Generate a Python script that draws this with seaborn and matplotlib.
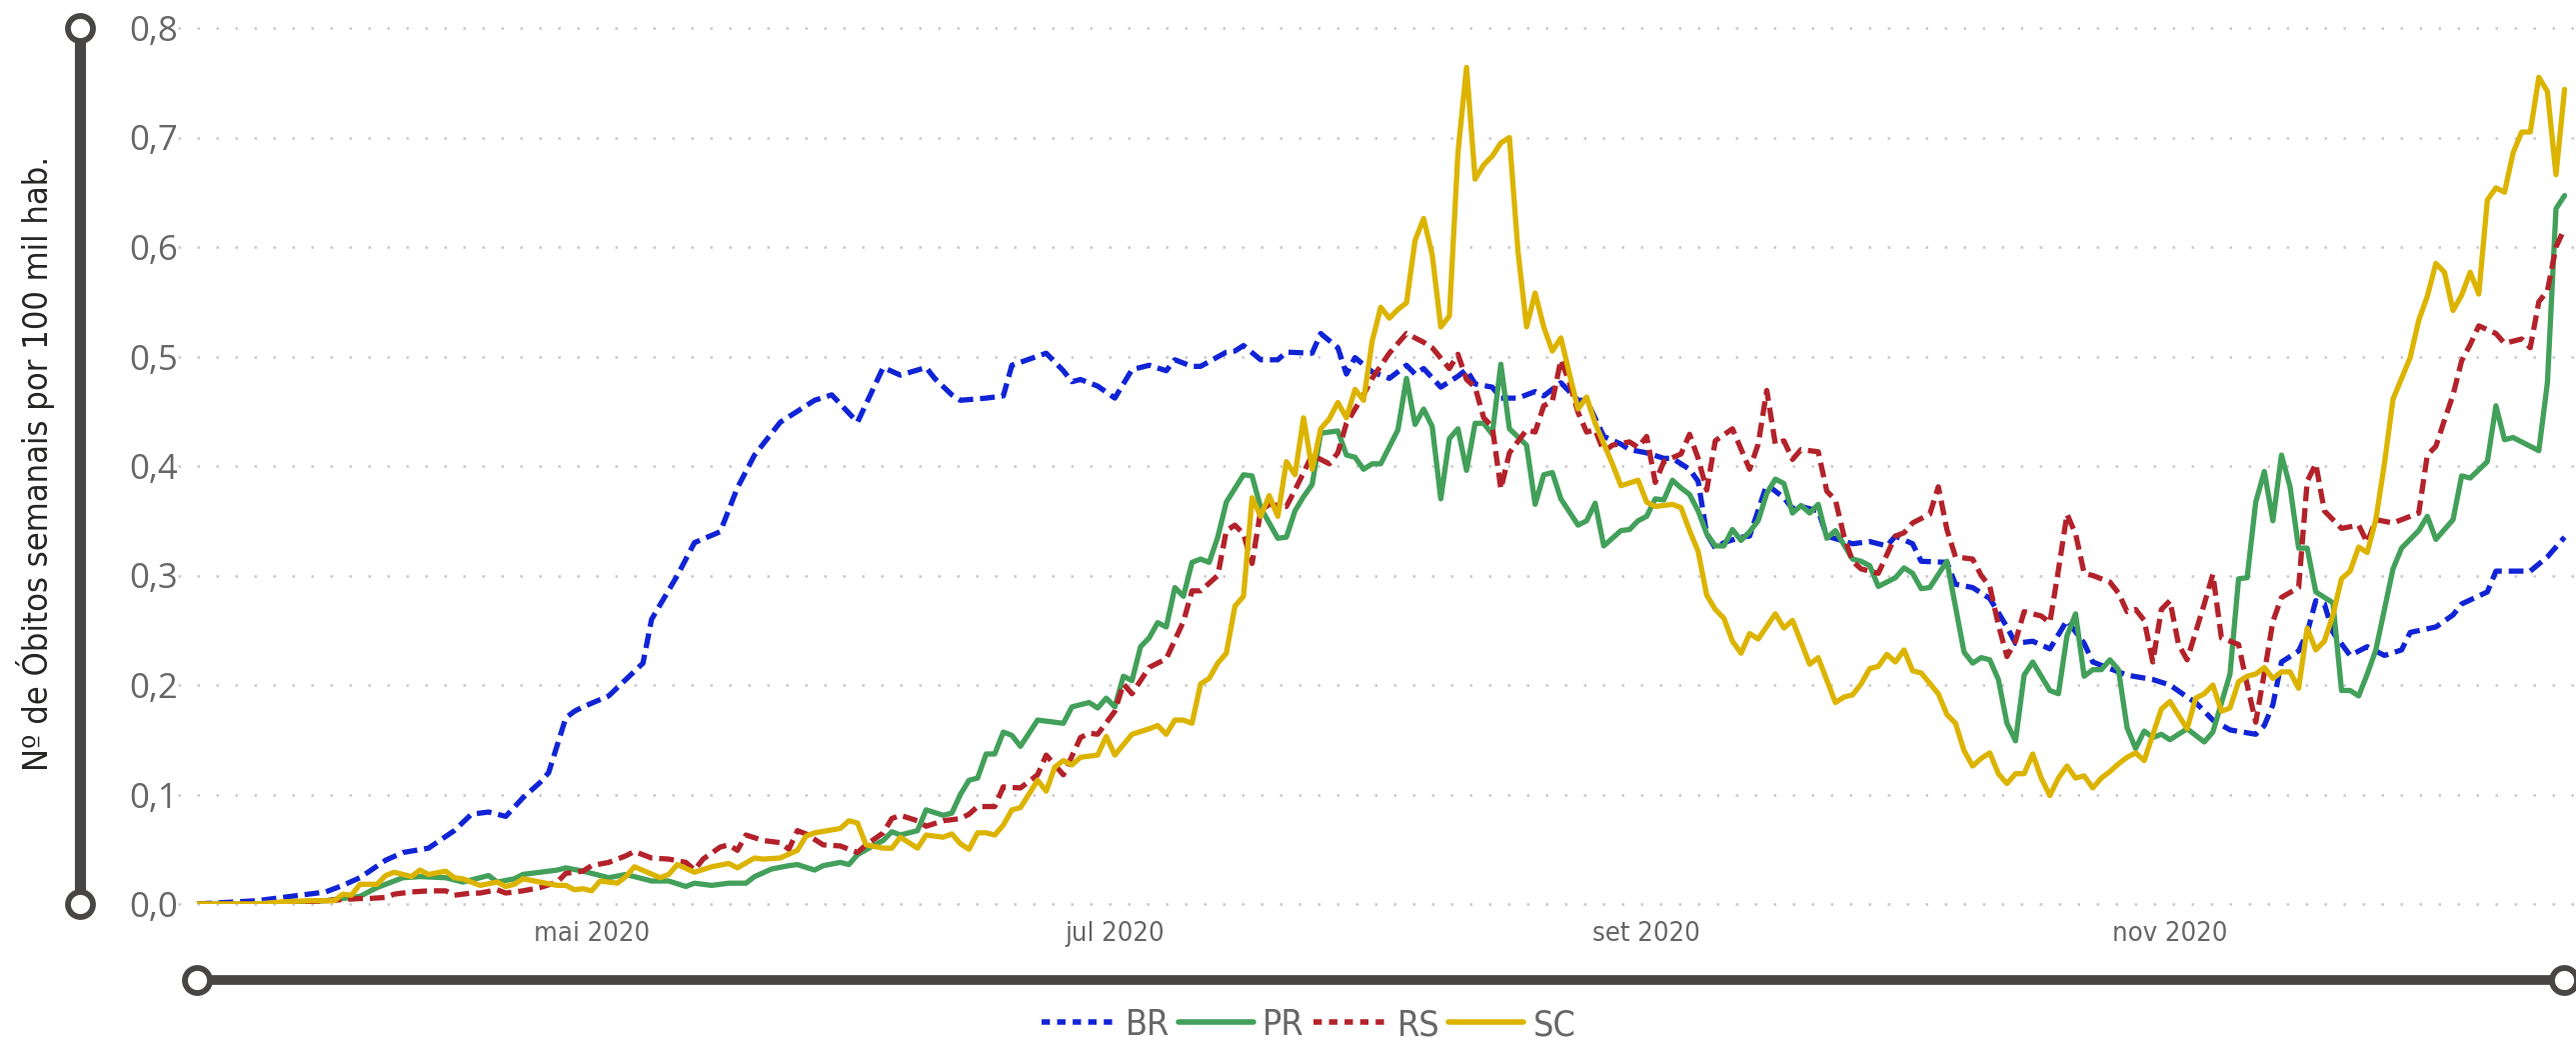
import numpy as np
import pandas as pd
import matplotlib
matplotlib.use('Agg')
import matplotlib.pyplot as plt
import matplotlib.dates as mdates
from matplotlib import font_manager
from matplotlib.font_manager import FontProperties
from matplotlib.lines import Line2D
import seaborn as sns

# dia 0 = primeiro dia da serie
inicio = pd.Timestamp('2020-03-16')

# (dias desde o inicio, obitos semanais por 100 mil hab.)
br = [(0, 0.0), (7, 0.003), (11, 0.007), (15, 0.011), (17, 0.017), (19, 0.024), (22, 0.040), (24, 0.047),
      (27, 0.051), (30, 0.067), (32, 0.082), (34, 0.084), (36, 0.080), (38, 0.097), (40, 0.111), (41, 0.120),
      (43, 0.170), (44, 0.176), (45, 0.180), (48, 0.190), (52, 0.220), (53, 0.260), (56, 0.300), (58, 0.330),
      (61, 0.340), (63, 0.380), (65, 0.410), (68, 0.440), (70, 0.450), (72, 0.460), (74, 0.465), (77, 0.440),
      (80, 0.490), (82, 0.483), (85, 0.490), (86, 0.480), (88, 0.465), (89, 0.460), (92, 0.462), (94, 0.464),
      (95, 0.492), (99, 0.503), (101, 0.487), (102, 0.477), (103, 0.479), (105, 0.473), (107, 0.462),
      (109, 0.488), (111, 0.492), (113, 0.487), (114, 0.497), (116, 0.491), (117, 0.491), (120, 0.504),
      (121, 0.505), (122, 0.510), (124, 0.497), (126, 0.497), (127, 0.504), (130, 0.503), (131, 0.521),
      (133, 0.508), (134, 0.484), (135, 0.499), (137, 0.486), (139, 0.480), (141, 0.492), (142, 0.484),
      (143, 0.489), (145, 0.472), (147, 0.482), (148, 0.488), (149, 0.475), (151, 0.472), (152, 0.462),
      (154, 0.462), (156, 0.468), (157, 0.464), (159, 0.476), (161, 0.460), (162, 0.460), (164, 0.427),
      (166, 0.420), (167, 0.415), (169, 0.412), (171, 0.407), (172, 0.407), (174, 0.397), (175, 0.386),
      (176, 0.338), (177, 0.325), (178, 0.330), (180, 0.335), (181, 0.336), (183, 0.383), (185, 0.371),
      (186, 0.361), (187, 0.363), (189, 0.359), (190, 0.336), (193, 0.329), (195, 0.331), (197, 0.327),
      (198, 0.336), (200, 0.329), (201, 0.313), (204, 0.312), (205, 0.292), (207, 0.289), (209, 0.279),
      (211, 0.253), (212, 0.238), (214, 0.240), (216, 0.233), (218, 0.259), (220, 0.238), (221, 0.221),
      (223, 0.215), (225, 0.209), (228, 0.205), (230, 0.200), (232, 0.189), (233, 0.184), (235, 0.168),
      (237, 0.159), (240, 0.155), (241, 0.163), (242, 0.182), (243, 0.221), (245, 0.231), (246, 0.248),
      (247, 0.277), (248, 0.274), (249, 0.248), (251, 0.227), (253, 0.235), (255, 0.227), (257, 0.232),
      (258, 0.248), (261, 0.253), (263, 0.264), (264, 0.274), (267, 0.285), (268, 0.304), (270, 0.304),
      (272, 0.304), (274, 0.317), (276, 0.335)]

pr = [(0, 0.0), (9, 0.0), (15, 0.003), (19, 0.007), (21, 0.015), (24, 0.024), (26, 0.025), (29, 0.024),
      (31, 0.020), (33, 0.024), (34, 0.026), (35, 0.020), (37, 0.023), (38, 0.027), (40, 0.029), (42, 0.031),
      (43, 0.033), (45, 0.030), (46, 0.028), (48, 0.024), (50, 0.027), (51, 0.025), (53, 0.021), (55, 0.021),
      (57, 0.016), (58, 0.019), (60, 0.017), (62, 0.019), (64, 0.019), (65, 0.025), (67, 0.032), (69, 0.035),
      (70, 0.036), (72, 0.031), (73, 0.035), (75, 0.038), (76, 0.036), (77, 0.045), (79, 0.054), (80, 0.058),
      (81, 0.066), (82, 0.063), (84, 0.067), (85, 0.086), (87, 0.081), (88, 0.083), (89, 0.100), (90, 0.113),
      (91, 0.115), (92, 0.137), (93, 0.137), (94, 0.157), (95, 0.154), (96, 0.144), (98, 0.168), (99, 0.167),
      (101, 0.165), (102, 0.180), (104, 0.184), (105, 0.179), (106, 0.188), (107, 0.180), (108, 0.208),
      (109, 0.204), (110, 0.235), (111, 0.243), (112, 0.257), (113, 0.253), (114, 0.289), (115, 0.281),
      (116, 0.312), (117, 0.315), (118, 0.312), (119, 0.335), (120, 0.367), (122, 0.392), (123, 0.391),
      (124, 0.362), (126, 0.334), (127, 0.335), (128, 0.359), (129, 0.372), (130, 0.383), (131, 0.430),
      (133, 0.432), (134, 0.410), (135, 0.408), (136, 0.397), (137, 0.402), (138, 0.402), (140, 0.433),
      (141, 0.480), (142, 0.438), (143, 0.452), (144, 0.436), (145, 0.370), (146, 0.425), (147, 0.434),
      (148, 0.396), (149, 0.439), (150, 0.439), (151, 0.429), (152, 0.493), (153, 0.434), (155, 0.419),
      (156, 0.365), (157, 0.392), (158, 0.394), (159, 0.370), (161, 0.346), (162, 0.350), (163, 0.366),
      (164, 0.327), (165, 0.334), (166, 0.341), (167, 0.342), (168, 0.350), (169, 0.354), (170, 0.370),
      (171, 0.369), (172, 0.387), (173, 0.380), (174, 0.374), (175, 0.359), (176, 0.338), (177, 0.327),
      (178, 0.327), (179, 0.342), (180, 0.332), (181, 0.340), (182, 0.350), (183, 0.375), (184, 0.388),
      (185, 0.384), (186, 0.357), (187, 0.364), (188, 0.357), (189, 0.365), (190, 0.334), (191, 0.341),
      (193, 0.315), (194, 0.313), (195, 0.309), (196, 0.290), (198, 0.298), (199, 0.307), (200, 0.302),
      (201, 0.288), (202, 0.289), (204, 0.313), (206, 0.230), (207, 0.220), (208, 0.225), (209, 0.223),
      (210, 0.205), (211, 0.165), (212, 0.149), (213, 0.209), (214, 0.221), (216, 0.195), (217, 0.192),
      (218, 0.245), (219, 0.265), (220, 0.208), (221, 0.214), (222, 0.214), (223, 0.223), (224, 0.214),
      (225, 0.161), (226, 0.142), (227, 0.158), (228, 0.152), (229, 0.155), (230, 0.150), (232, 0.160),
      (234, 0.148), (235, 0.157), (237, 0.210), (238, 0.297), (239, 0.298), (240, 0.367), (241, 0.395),
      (242, 0.350), (243, 0.410), (244, 0.381), (245, 0.325), (246, 0.325), (247, 0.285), (249, 0.275),
      (250, 0.195), (251, 0.195), (252, 0.190), (253, 0.210), (254, 0.232), (256, 0.306), (257, 0.325),
      (259, 0.341), (260, 0.354), (261, 0.333), (263, 0.351), (264, 0.391), (265, 0.389), (267, 0.404),
      (268, 0.455), (269, 0.424), (270, 0.426), (271, 0.422), (273, 0.414), (274, 0.476), (275, 0.635),
      (276, 0.647)]

rs = [(0, 0.0), (7, 0.0), (11, 0.001), (15, 0.003), (17, 0.004), (19, 0.005), (20, 0.005), (22, 0.006),
      (23, 0.009), (25, 0.011), (27, 0.012), (29, 0.012), (30, 0.008), (32, 0.010), (33, 0.010), (35, 0.013),
      (36, 0.010), (38, 0.012), (40, 0.015), (42, 0.020), (43, 0.028), (45, 0.030), (46, 0.035), (48, 0.038),
      (50, 0.044), (51, 0.048), (53, 0.042), (55, 0.041), (57, 0.038), (58, 0.031), (59, 0.041), (61, 0.052),
      (62, 0.054), (63, 0.049), (64, 0.063), (66, 0.058), (68, 0.056), (69, 0.050), (70, 0.067), (71, 0.064),
      (73, 0.054), (75, 0.053), (77, 0.047), (78, 0.054), (80, 0.065), (81, 0.078), (82, 0.081), (84, 0.076),
      (85, 0.071), (87, 0.076), (89, 0.078), (90, 0.082), (91, 0.089), (93, 0.089), (94, 0.107), (96, 0.106),
      (98, 0.118), (99, 0.136), (101, 0.118), (103, 0.152), (104, 0.156), (105, 0.155), (107, 0.176),
      (108, 0.201), (109, 0.192), (111, 0.216), (113, 0.224), (115, 0.258), (116, 0.286), (117, 0.286),
      (119, 0.300), (120, 0.341), (121, 0.346), (122, 0.338), (123, 0.311), (124, 0.359), (125, 0.365),
      (127, 0.363), (128, 0.378), (130, 0.410), (132, 0.402), (133, 0.412), (134, 0.439), (136, 0.465),
      (137, 0.480), (139, 0.503), (141, 0.521), (143, 0.513), (144, 0.508), (146, 0.489), (147, 0.502),
      (148, 0.479), (149, 0.472), (150, 0.444), (151, 0.436), (152, 0.379), (153, 0.412), (155, 0.433),
      (156, 0.431), (157, 0.455), (158, 0.459), (159, 0.497), (160, 0.476), (161, 0.449), (162, 0.431),
      (163, 0.433), (164, 0.413), (165, 0.419), (167, 0.422), (168, 0.417), (169, 0.427), (170, 0.385),
      (171, 0.404), (173, 0.411), (174, 0.429), (175, 0.407), (176, 0.378), (177, 0.423), (179, 0.434),
      (181, 0.397), (182, 0.420), (183, 0.469), (184, 0.420), (185, 0.423), (186, 0.406), (187, 0.415),
      (189, 0.413), (190, 0.377), (191, 0.369), (192, 0.336), (193, 0.313), (194, 0.306), (196, 0.302),
      (198, 0.336), (199, 0.339), (200, 0.348), (202, 0.356), (203, 0.381), (204, 0.342), (205, 0.317),
      (207, 0.315), (208, 0.300), (209, 0.290), (210, 0.255), (211, 0.226), (212, 0.240), (213, 0.267),
      (215, 0.263), (216, 0.257), (217, 0.305), (218, 0.356), (219, 0.338), (220, 0.302), (221, 0.300),
      (223, 0.294), (224, 0.284), (225, 0.267), (226, 0.269), (227, 0.259), (228, 0.221), (229, 0.269),
      (230, 0.277), (231, 0.237), (232, 0.223), (234, 0.274), (235, 0.301), (236, 0.243), (238, 0.237),
      (239, 0.200), (240, 0.166), (241, 0.211), (242, 0.258), (243, 0.280), (245, 0.289), (246, 0.386),
      (247, 0.402), (248, 0.359), (250, 0.343), (252, 0.346), (253, 0.330), (254, 0.351), (256, 0.348),
      (259, 0.357), (260, 0.410), (261, 0.418), (262, 0.442), (263, 0.465), (264, 0.496), (265, 0.511),
      (266, 0.528), (268, 0.521), (269, 0.512), (271, 0.516), (272, 0.508), (273, 0.550), (274, 0.560),
      (275, 0.600), (276, 0.617)]

sc = [(0, 0.0), (7, 0.0), (10, 0.002), (13, 0.003), (16, 0.003), (17, 0.009), (18, 0.008), (19, 0.018),
      (21, 0.018), (22, 0.026), (23, 0.029), (25, 0.025), (26, 0.031), (27, 0.027), (29, 0.030), (30, 0.024),
      (31, 0.023), (33, 0.017), (35, 0.020), (36, 0.016), (37, 0.018), (38, 0.023), (40, 0.020), (42, 0.017),
      (43, 0.017), (44, 0.013), (45, 0.014), (46, 0.012), (47, 0.021), (49, 0.019), (50, 0.025), (51, 0.034),
      (54, 0.024), (55, 0.027), (56, 0.036), (58, 0.029), (60, 0.034), (62, 0.037), (63, 0.033), (65, 0.042),
      (66, 0.041), (68, 0.042), (70, 0.049), (71, 0.062), (72, 0.065), (75, 0.069), (76, 0.076), (77, 0.074),
      (78, 0.054), (80, 0.051), (81, 0.051), (82, 0.061), (84, 0.051), (85, 0.063), (87, 0.061), (88, 0.064),
      (89, 0.055), (90, 0.050), (91, 0.065), (92, 0.065), (93, 0.063), (94, 0.072), (95, 0.086), (96, 0.088),
      (98, 0.113), (99, 0.103), (100, 0.125), (101, 0.131), (102, 0.127), (103, 0.134), (105, 0.136),
      (106, 0.153), (107, 0.136), (109, 0.155), (111, 0.160), (112, 0.163), (113, 0.155), (114, 0.168),
      (115, 0.168), (116, 0.165), (117, 0.201), (118, 0.206), (119, 0.220), (120, 0.229), (121, 0.272),
      (122, 0.281), (123, 0.371), (124, 0.354), (125, 0.373), (126, 0.354), (127, 0.404), (128, 0.392),
      (129, 0.444), (130, 0.397), (131, 0.434), (132, 0.443), (133, 0.458), (134, 0.444), (135, 0.470),
      (136, 0.460), (137, 0.514), (138, 0.545), (139, 0.535), (140, 0.543), (141, 0.549), (142, 0.606),
      (143, 0.626), (144, 0.593), (145, 0.527), (146, 0.537), (147, 0.686), (148, 0.764), (149, 0.662),
      (150, 0.675), (151, 0.683), (152, 0.695), (153, 0.700), (154, 0.596), (155, 0.527), (156, 0.558),
      (157, 0.527), (158, 0.505), (159, 0.517), (160, 0.484), (161, 0.452), (162, 0.463), (163, 0.439),
      (165, 0.402), (166, 0.382), (168, 0.387), (169, 0.367), (170, 0.363), (172, 0.365), (173, 0.362),
      (174, 0.341), (175, 0.322), (176, 0.282), (177, 0.269), (178, 0.261), (179, 0.240), (180, 0.229),
      (181, 0.247), (182, 0.242), (184, 0.265), (185, 0.252), (186, 0.259), (188, 0.219), (189, 0.225),
      (191, 0.184), (192, 0.189), (193, 0.191), (194, 0.201), (195, 0.215), (196, 0.217), (197, 0.228),
      (198, 0.221), (199, 0.232), (200, 0.213), (201, 0.211), (203, 0.192), (204, 0.173), (205, 0.165),
      (206, 0.140), (207, 0.126), (208, 0.133), (209, 0.138), (210, 0.119), (211, 0.110), (212, 0.119),
      (213, 0.119), (214, 0.137), (215, 0.115), (216, 0.099), (217, 0.115), (218, 0.126), (219, 0.115),
      (220, 0.117), (221, 0.106), (222, 0.115), (223, 0.121), (224, 0.128), (225, 0.134), (226, 0.138),
      (227, 0.131), (229, 0.178), (230, 0.185), (232, 0.160), (233, 0.188), (234, 0.192), (235, 0.200),
      (236, 0.176), (237, 0.179), (238, 0.203), (239, 0.208), (240, 0.210), (241, 0.216), (242, 0.206),
      (243, 0.212), (244, 0.212), (245, 0.197), (246, 0.252), (247, 0.232), (248, 0.240), (249, 0.264),
      (250, 0.297), (251, 0.304), (252, 0.326), (253, 0.321), (254, 0.351), (255, 0.402), (256, 0.461),
      (257, 0.480), (258, 0.499), (259, 0.533), (260, 0.555), (261, 0.585), (262, 0.577), (263, 0.542),
      (264, 0.556), (265, 0.577), (266, 0.557), (267, 0.643), (268, 0.654), (269, 0.650), (270, 0.686),
      (271, 0.705), (272, 0.705), (273, 0.755), (274, 0.742), (275, 0.666), (276, 0.744)]

locais = ['BR', 'PR', 'RS', 'SC']
cores = {'BR': '#1024d6', 'PR': '#42a05a', 'RS': '#b3222a', 'SC': '#dcb400'}
tracos = {'BR': (2.8, 1.3), 'PR': '', 'RS': (2.8, 1.3), 'SC': ''}

tick_datas = ['2020-05-01', '2020-07-01', '2020-09-01', '2020-11-01']
tick_rotulos = ['mai 2020', 'jul 2020', 'set 2020', 'nov 2020']
y_ticks = [0.0, 0.1, 0.2, 0.3, 0.4, 0.5, 0.6, 0.7, 0.8]
titulo_y = 'Nº de Óbitos semanais por 100 mil hab.'

frames = []
for uf, serie in zip(locais, [br, pr, rs, sc]):
    dias = [p[0] for p in serie]
    vals = [p[1] for p in serie]
    frames.append(pd.DataFrame({'data': inicio + pd.to_timedelta(dias, unit='D'),
                                'obitos': vals, 'uf': uf}))
df = pd.concat(frames, ignore_index=True)

sns.set_style('white')

# procura uma fonte condensada instalada (o Power BI usa DIN condensada nos rotulos)
nomes = {f.name for f in font_manager.fontManager.ttflist}
arq_cond = None
for f in font_manager.fontManager.ttflist:
    fn = f.fname.lower()
    if ('narrow' in fn or 'condensed' in fn) and 'bold' not in fn and 'italic' not in fn \
            and 'oblique' not in fn and 'light' not in fn:
        arq_cond = f.fname
        break
fonte_num = 'Open Sans' if 'Open Sans' in nomes else 'DejaVu Sans'
plt.rcParams['font.family'] = ['Roboto', 'DejaVu Sans']


def fonte_rotulo(tam):
    if arq_cond:
        return FontProperties(fname=arq_cond, size=tam * 1.12)
    return FontProperties(family=['Roboto', 'DejaVu Sans'], size=tam)


cinza = '#666666'
escuro = '#484644'

fig = plt.figure(figsize=(25.77, 10.42), dpi=100)
ax = fig.add_axes([197 / 2577, 1 - 904 / 1042, 2372 / 2577, 876 / 1042])

sns.lineplot(data=df, x='data', y='obitos', hue='uf', style='uf', hue_order=locais, style_order=locais,
             palette=cores, dashes=tracos, linewidth=3.8, estimator=None, legend=False, ax=ax)

ax.set_xlim(inicio, inicio + pd.Timedelta(days=276.4))
ax.set_ylim(0, 0.8)
for s in ax.spines.values():
    s.set_visible(False)

for v in y_ticks:
    ax.axhline(v, xmin=-0.008, xmax=1.01, color='#c8c8c8', lw=1.8, ls=(0, (1, 6.6)),
               clip_on=False, zorder=0)

ax.set_yticks(y_ticks)
ax.set_yticklabels([f'{v:.1f}'.replace('.', ',') for v in y_ticks], fontsize=25,
                   color=cinza, family=[fonte_num, 'DejaVu Sans'])
ax.set_xticks([mdates.date2num(pd.Timestamp(d)) for d in tick_datas])
ax.set_xticklabels(tick_rotulos, color=cinza, fontproperties=fonte_rotulo(17.5))
ax.tick_params(axis='y', length=0, pad=14)
ax.tick_params(axis='x', length=0, pad=12)
ax.set_xlabel('')
ax.set_ylabel('')
ax.grid(False)

titulo = fig.text(36 / 2577, 1 - 464 / 1042, titulo_y, rotation=90, ha='center', va='center',
                  color='#252423', fontproperties=fonte_rotulo(23))
# ajusta o tamanho para o titulo ocupar a mesma altura do original (~616 px)
fig.canvas.draw()
alt = titulo.get_window_extent().height
if alt > 0:
    titulo.set_fontsize(titulo.get_fontsize() * 616 / alt)

# barras decorativas (estilo slider do Power BI)
xv = 80 / 2577
fig.add_artist(Line2D([xv, xv], [1 - 28 / 1042, 1 - 904 / 1042], transform=fig.transFigure,
                      color=escuro, lw=8, solid_capstyle='butt', zorder=1))
yh = 1 - 980 / 1042
fig.add_artist(Line2D([197 / 2577, 2565 / 2577], [yh, yh], transform=fig.transFigure,
                      color=escuro, lw=7, solid_capstyle='butt', zorder=1))
for px, py in [(80, 28), (80, 904), (197, 980), (2565, 980)]:
    fig.add_artist(Line2D([px / 2577], [1 - py / 1042], transform=fig.transFigure, marker='o',
                          markersize=18, mfc='white', mec=escuro, mew=4.2, ls='none', zorder=2))

alcas = []
for uf in locais:
    if tracos[uf]:
        alcas.append(Line2D([], [], color=cores[uf], lw=4, ls=(0, (1.5, 1.3))))
    else:
        alcas.append(Line2D([], [], color=cores[uf], lw=4))
fig.legend(alcas, locais, loc='center', bbox_to_anchor=(1309 / 2577, 1 - 1025 / 1042), ncol=4,
           frameon=False, prop=fonte_rotulo(23), handlelength=2.1, handletextpad=0.25,
           columnspacing=0.25, labelcolor=cinza, borderpad=0, borderaxespad=0)

fig.savefig('out.png', dpi=100, facecolor='white')
